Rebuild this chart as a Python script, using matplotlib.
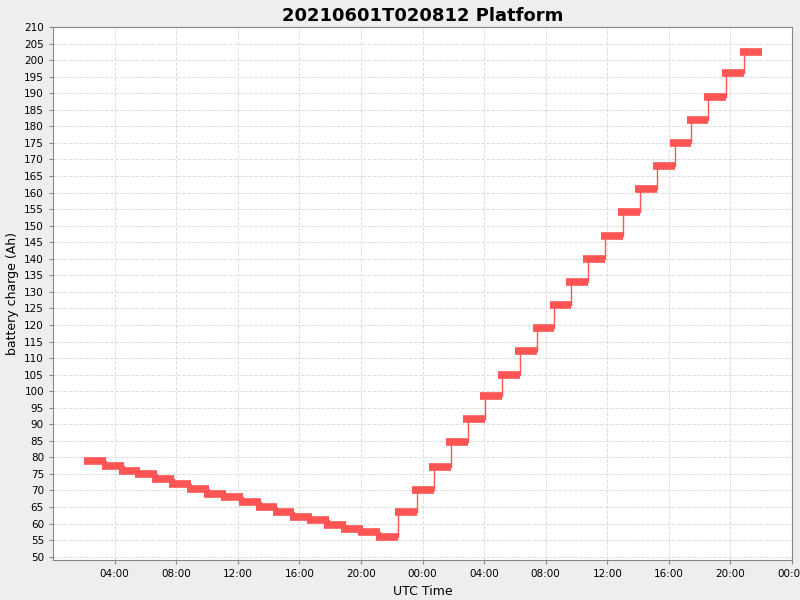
import matplotlib
matplotlib.use("Agg")
import matplotlib.pyplot as plt

# start of each sample window, hours since 2021-06-01 00:00 UTC
start_hours = [2.0, 3.16, 4.26, 5.35, 6.45, 7.55, 8.71, 9.81, 10.9, 12.06,
               13.16, 14.26, 15.42, 16.52, 17.61, 18.71, 19.81, 20.97, 22.2, 23.3,
               24.4, 25.55, 26.65, 27.75, 28.9, 30.0, 31.15, 32.25, 33.35, 34.45,
               35.6, 36.7, 37.8, 38.95, 40.05, 41.15, 42.3, 43.45, 44.62]
charge_ah = [79, 77.5, 76, 75, 73.5, 72, 70.5, 69, 68, 66.5,
             65, 63.5, 62, 61, 59.5, 58.5, 57.5, 56, 63.5, 70,
             77, 84.5, 91.5, 98.5, 105, 112, 119, 126, 133, 140,
             147, 154, 161, 168, 175, 182, 189, 196, 202.5]
window_h = 1.42
tick_hours = list(range(4, 49, 4))
tick_labels = ["%02d:00" % (h % 24) for h in tick_hours]

fig = plt.figure(figsize=(8, 6), dpi=100, facecolor="#EEEEEE")
ax = fig.add_axes([53 / 800, 40 / 600, 739 / 800, 533 / 600])
ax.set_facecolor("white")

red = "#FF5555"
# thin connectors from end of one window to start of the next
for i in range(len(start_hours) - 1):
    ax.plot([start_hours[i] + window_h, start_hours[i] + window_h],
            [charge_ah[i], charge_ah[i + 1]], color=red, lw=1, zorder=2)
for s, v in zip(start_hours, charge_ah):
    ax.plot([s, s + window_h], [v, v], color=red, lw=5.5, solid_capstyle="butt", zorder=3)

ax.set_xlim(0, 47.9)
ax.set_ylim(49, 210)
ax.set_xticks(tick_hours)
ax.set_xticklabels(tick_labels)
ax.set_yticks(range(50, 211, 5))
ax.tick_params(labelsize=7.5, length=3, color="#888888")
ax.grid(True, color="#DDDDDD", ls="--", lw=0.7)
ax.set_axisbelow(True)
for sp in ax.spines.values():
    sp.set_color("#888888")
    sp.set_linewidth(0.8)

ax.set_xlabel("UTC Time", fontsize=9)
ax.set_ylabel("battery charge (Ah)", fontsize=9)
ax.set_title("20210601T020812 Platform", fontsize=13, fontweight="bold", pad=4)

fig.savefig("out.png", dpi=100, facecolor=fig.get_facecolor())
